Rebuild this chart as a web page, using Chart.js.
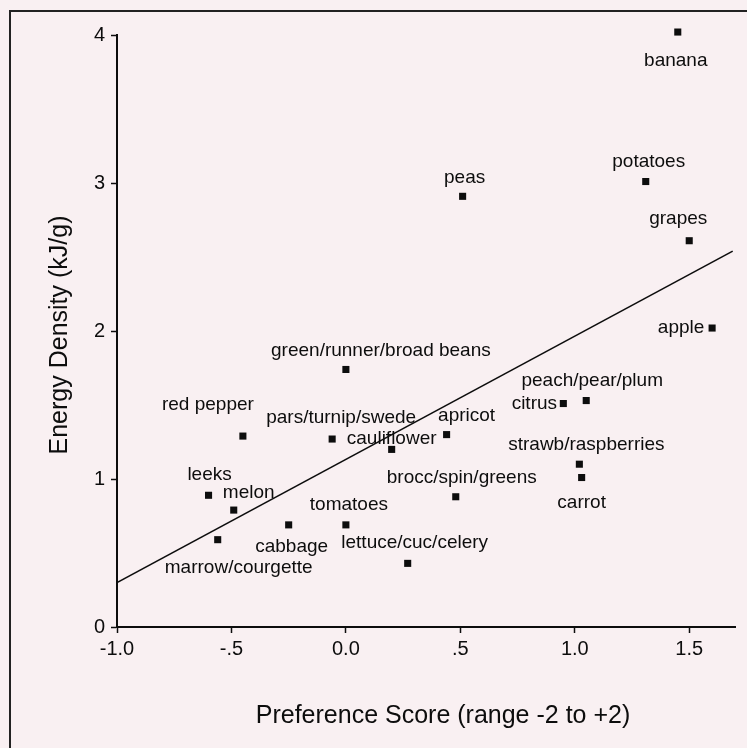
<!DOCTYPE html>
<html>
<head>
<meta charset="utf-8">
<title>Energy density vs preference</title>
<script src="https://cdn.jsdelivr.net/npm/chart.js@4.4.0/dist/chart.umd.min.js"></script>
<style>
  html, body { margin: 0; padding: 0; background: #f9f0f2; }
  #wrap { width: 747px; height: 748px; }
</style>
</head>
<body>
<div id="wrap"><canvas id="scatter-chart" width="747" height="748"></canvas></div>
<script>
// Foods with preference score (x) and energy density in kJ/g (y)
const foods = [
    'banana', 'peas', 'potatoes', 'grapes', 'apple',
    'green/runner/broad beans', 'red pepper', 'pars/turnip/swede', 'cauliflower', 'apricot',
    'peach/pear/plum', 'citrus', 'strawb/raspberries', 'carrot', 'brocc/spin/greens',
    'lettuce/cuc/celery', 'tomatoes', 'cabbage', 'leeks', 'melon', 'marrow/courgette'
];
const preference = [
    1.45, 0.51, 1.31, 1.50, 1.60,
    0.00, -0.45, -0.06, 0.20, 0.44,
    1.05, 0.95, 1.02, 1.03, 0.48,
    0.27, 0.00, -0.25, -0.60, -0.49, -0.56
];
const energy = [
    4.02, 2.91, 3.01, 2.61, 2.02,
    1.74, 1.29, 1.27, 1.20, 1.30,
    1.53, 1.51, 1.10, 1.01, 0.88,
    0.43, 0.69, 0.69, 0.89, 0.79, 0.59
];

// regression line end points
const fitX = [-1.0, 1.69];
const fitY = [0.30, 2.54];

// axes
const xTickValues = [-1.0, -0.5, 0, 0.5, 1.0, 1.5];
const xTickLabels = ['-1.0', '-.5', '0.0', '.5', '1.0', '1.5'];
const yTickValues = [0, 1, 2, 3, 4];
const yTickLabels = ['0', '1', '2', '3', '4'];
const xTitle = 'Preference Score (range -2 to +2)';
const yTitle = 'Energy Density (kJ/g)';

// where each food name sits relative to its point (px), styling only
const labelOffsets = [
    [-2, 29], [2, -19], [3, -20], [-11, -22], [-31, 0],
    [35, -19], [-35, -31], [9, -21], [0, -11], [20, -19],
    [6, -20], [-29, 0], [7, -19], [0, 25], [6, -19],
    [7, -21], [3, -20], [3, 22], [1, -21], [15, -17], [21, 28]
];

const FONT = "'Liberation Sans', Arial, sans-serif";
const INK = '#0d0d0d';

/**
 * Paper background and the scanned frame
 */
const paperPlugin = {
    id: 'paper',
    beforeDraw(chart) {
        const ctx = chart.ctx;
        ctx.save();
        ctx.fillStyle = '#f9f0f2';
        ctx.fillRect(0, 0, chart.width, chart.height);
        ctx.strokeStyle = '#222';
        ctx.lineWidth = 2;
        ctx.beginPath();
        ctx.moveTo(10, chart.height);
        ctx.lineTo(10, 11);
        ctx.lineTo(chart.width, 11);
        ctx.stroke();
        ctx.restore();
    }
};

/**
 * Food names next to the points, and the two axis titles
 */
const labelPlugin = {
    id: 'foodLabels',
    afterDatasetsDraw(chart) {
        const ctx = chart.ctx;
        const meta = chart.getDatasetMeta(0);
        ctx.save();
        ctx.fillStyle = INK;
        ctx.font = '19px ' + FONT;
        ctx.textAlign = 'center';
        ctx.textBaseline = 'middle';
        meta.data.forEach((pt, i) => {
            const off = labelOffsets[i] || [0, -18];
            ctx.fillText(foods[i], pt.x + off[0], pt.y + off[1]);
        });

        ctx.font = '25px ' + FONT;
        ctx.fillText(xTitle, 443, 716);
        ctx.translate(60, 335);
        ctx.rotate(-Math.PI / 2);
        ctx.fillText(yTitle, 0, 0);
        ctx.restore();
    }
};

function initScatterChart() {
    const canvas = document.getElementById('scatter-chart');
    if (!canvas) {
        console.error('Cannot find scatter-chart canvas element');
        return;
    }
    const ctx = canvas.getContext('2d');

    const points = preference.map((x, i) => ({ x: x, y: energy[i] }));
    const fitLine = fitX.map((x, i) => ({ x: x, y: fitY[i] }));

    new Chart(ctx, {
        type: 'scatter',
        data: {
            datasets: [
                {
                    label: 'Foods',
                    data: points,
                    clip: false,
                    pointStyle: 'rect',
                    pointRadius: 5,
                    pointBorderWidth: 0,
                    backgroundColor: INK
                },
                {
                    label: 'Fit',
                    type: 'line',
                    data: fitLine,
                    borderColor: INK,
                    borderWidth: 1.6,
                    pointRadius: 0,
                    fill: false
                }
            ]
        },
        options: {
            responsive: false,
            animation: false,
            layout: { padding: { left: 0, top: 35, right: 12, bottom: 0 } },
            plugins: {
                legend: { display: false },
                tooltip: { enabled: false }
            },
            scales: {
                x: {
                    type: 'linear',
                    min: -1.0,
                    max: 1.7,
                    afterFit(scale) { scale.height = 121; },
                    afterBuildTicks(scale) {
                        scale.ticks = xTickValues.map(v => ({ value: v }));
                    },
                    grid: {
                        drawOnChartArea: false,
                        drawTicks: true,
                        tickLength: 6,
                        tickColor: INK,
                        tickWidth: 1.5
                    },
                    border: { color: INK, width: 2 },
                    ticks: {
                        color: INK,
                        padding: 4,
                        font: { family: FONT, size: 20 },
                        callback(value) {
                            const i = xTickValues.findIndex(v => Math.abs(v - value) < 1e-6);
                            return i >= 0 ? xTickLabels[i] : '';
                        }
                    }
                },
                y: {
                    type: 'linear',
                    min: 0,
                    max: 4,
                    afterFit(scale) { scale.width = 117; },
                    afterBuildTicks(scale) {
                        scale.ticks = yTickValues.map(v => ({ value: v }));
                    },
                    grid: {
                        drawOnChartArea: false,
                        drawTicks: true,
                        tickLength: 6,
                        tickColor: INK,
                        tickWidth: 1.5
                    },
                    border: { color: INK, width: 2 },
                    ticks: {
                        color: INK,
                        padding: 6,
                        font: { family: FONT, size: 20 },
                        callback(value) {
                            const i = yTickValues.indexOf(value);
                            return i >= 0 ? yTickLabels[i] : '';
                        }
                    }
                }
            }
        },
        plugins: [paperPlugin, labelPlugin]
    });
}

initScatterChart();
</script>
</body>
</html>
